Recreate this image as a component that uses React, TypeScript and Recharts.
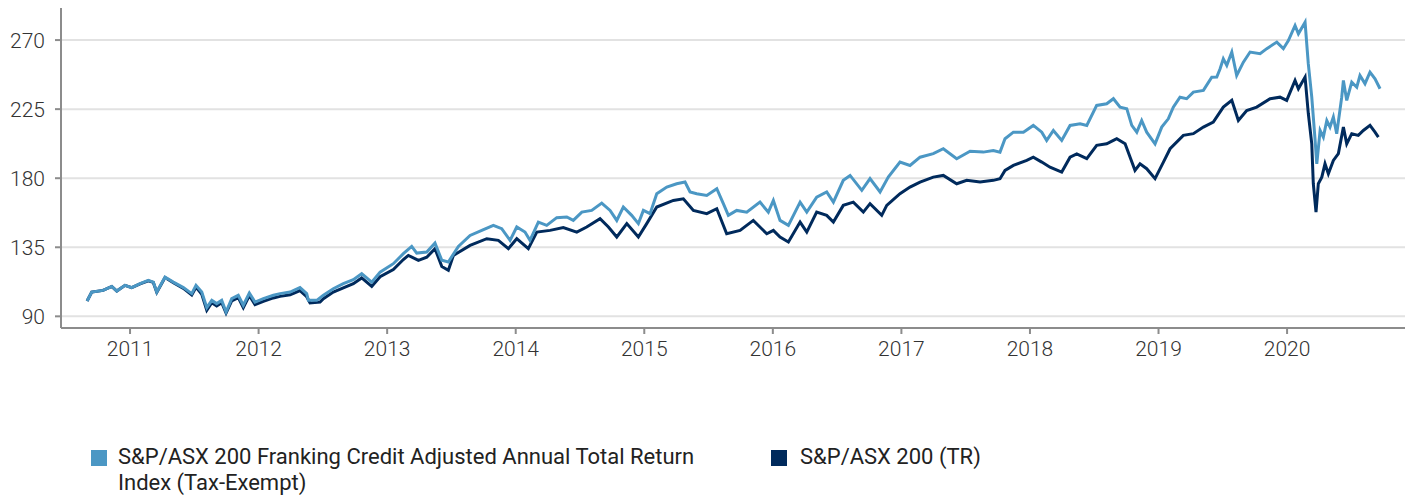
import React from "react";
import { LineChart, Line, XAxis, YAxis, CartesianGrid } from "recharts";

// Decimal-year dates and index values
const fcDates = [
  2010.666, 2010.702, 2010.79, 2010.858, 2010.897, 2010.961, 2011.013, 2011.078, 2011.142, 2011.181,
  2011.208, 2011.272, 2011.337, 2011.415, 2011.48, 2011.513, 2011.558, 2011.597, 2011.636, 2011.674,
  2011.713, 2011.747, 2011.791, 2011.842, 2011.881, 2011.928, 2011.972, 2012.037, 2012.115, 2012.167,
  2012.245, 2012.322, 2012.374, 2012.387, 2012.452, 2012.504, 2012.581, 2012.659, 2012.737, 2012.802,
  2012.88, 2012.945, 2013.048, 2013.126, 2013.191, 2013.23, 2013.308, 2013.372, 2013.425, 2013.476,
  2013.554, 2013.645, 2013.736, 2013.826, 2013.891, 2013.956, 2014.008, 2014.072, 2014.111, 2014.176,
  2014.241, 2014.319, 2014.397, 2014.448, 2014.514, 2014.591, 2014.669, 2014.734, 2014.786, 2014.837,
  2014.902, 2014.954, 2014.993, 2015.045, 2015.097, 2015.175, 2015.252, 2015.317, 2015.356, 2015.408,
  2015.486, 2015.564, 2015.615, 2015.654, 2015.719, 2015.797, 2015.9, 2015.965, 2016.004, 2016.056,
  2016.121, 2016.212, 2016.264, 2016.341, 2016.419, 2016.471, 2016.548, 2016.601, 2016.692, 2016.756,
  2016.834, 2016.898, 2016.989, 2017.067, 2017.145, 2017.248, 2017.326, 2017.43, 2017.534, 2017.637,
  2017.715, 2017.767, 2017.806, 2017.871, 2017.949, 2018.026, 2018.092, 2018.13, 2018.182, 2018.247,
  2018.312, 2018.39, 2018.442, 2018.519, 2018.597, 2018.649, 2018.701, 2018.753, 2018.792, 2018.831,
  2018.869, 2018.908, 2018.973, 2019.025, 2019.076, 2019.115, 2019.167, 2019.219, 2019.271, 2019.349,
  2019.414, 2019.453, 2019.479, 2019.504, 2019.531, 2019.57, 2019.608, 2019.66, 2019.712, 2019.79,
  2019.842, 2019.92, 2019.971, 2020.01, 2020.062, 2020.088, 2020.14, 2020.165, 2020.192, 2020.218,
  2020.231, 2020.257, 2020.282, 2020.309, 2020.334, 2020.36, 2020.386, 2020.425, 2020.438, 2020.464,
  2020.503, 2020.542, 2020.567, 2020.606, 2020.645, 2020.684, 2020.723,
];
const fcValues = [
  100.0, 105.8, 106.9, 109.5, 106.5, 110.2, 108.7, 111.3, 113.4, 112.3,
  105.8, 115.6, 112.3, 108.7, 104.8, 110.2, 105.8, 95.7, 100.4, 98.3,
  100.4, 92.8, 101.5, 103.7, 97.2, 105.2, 99.3, 101.5, 103.7, 104.8,
  105.8, 108.7, 104.8, 100.4, 100.4, 103.7, 108.0, 111.3, 113.9, 117.8,
  112.3, 118.8, 124.3, 130.8, 135.6, 131.2, 131.9, 137.7, 126.5, 125.4,
  135.6, 142.7, 146.0, 149.3, 147.1, 139.5, 148.2, 144.9, 139.5, 151.4,
  149.3, 154.3, 154.7, 152.5, 157.9, 159.0, 163.8, 159.0, 152.5, 161.2,
  155.8, 150.4, 159.0, 156.9, 169.9, 174.2, 176.4, 177.5, 171.0, 169.9,
  168.8, 173.2, 163.4, 155.8, 159.0, 157.9, 164.4, 157.9, 165.5, 152.5,
  149.3, 164.4, 157.9, 167.7, 171.0, 164.4, 178.6, 181.8, 172.1, 179.7,
  171.0, 180.7, 190.5, 188.3, 193.7, 196.0, 199.2, 192.7, 197.6, 197.0,
  198.1, 197.0, 205.7, 210.0, 210.0, 214.4, 210.0, 204.6, 211.1, 204.6,
  214.4, 215.5, 214.4, 227.4, 228.5, 231.8, 226.3, 225.3, 214.4, 210.0,
  217.6, 210.0, 202.4, 213.3, 218.7, 226.3, 232.8, 231.8, 236.1, 237.2,
  245.8, 245.9, 251.3, 257.8, 253.5, 262.2, 246.9, 255.6, 262.2, 261.1,
  264.4, 268.7, 264.4, 269.7, 279.5, 274.1, 281.6, 254.6, 232.8, 204.6,
  189.4, 211.1, 206.8, 217.6, 213.3, 219.8, 209.0, 232.8, 243.7, 230.7,
  242.6, 239.3, 246.9, 241.6, 249.1, 244.8, 238.3,
];

const trDates = [
  2010.666, 2010.702, 2010.79, 2010.858, 2010.897, 2010.961, 2011.013, 2011.078, 2011.142, 2011.181,
  2011.208, 2011.272, 2011.337, 2011.415, 2011.48, 2011.513, 2011.558, 2011.597, 2011.636, 2011.674,
  2011.713, 2011.747, 2011.791, 2011.842, 2011.881, 2011.928, 2011.972, 2012.037, 2012.115, 2012.167,
  2012.245, 2012.322, 2012.374, 2012.4, 2012.478, 2012.504, 2012.581, 2012.659, 2012.737, 2012.802,
  2012.88, 2012.945, 2013.048, 2013.126, 2013.165, 2013.243, 2013.308, 2013.372, 2013.425, 2013.476,
  2013.515, 2013.645, 2013.775, 2013.865, 2013.943, 2014.008, 2014.098, 2014.164, 2014.267, 2014.37,
  2014.475, 2014.552, 2014.656, 2014.721, 2014.786, 2014.864, 2014.954, 2015.019, 2015.097, 2015.226,
  2015.304, 2015.382, 2015.486, 2015.564, 2015.641, 2015.745, 2015.848, 2015.953, 2016.004, 2016.056,
  2016.121, 2016.212, 2016.264, 2016.341, 2016.419, 2016.471, 2016.548, 2016.626, 2016.704, 2016.756,
  2016.847, 2016.886, 2016.989, 2017.067, 2017.145, 2017.248, 2017.326, 2017.43, 2017.508, 2017.612,
  2017.715, 2017.767, 2017.806, 2017.871, 2017.975, 2018.026, 2018.092, 2018.156, 2018.247, 2018.312,
  2018.364, 2018.442, 2018.519, 2018.597, 2018.649, 2018.675, 2018.74, 2018.779, 2018.817, 2018.856,
  2018.908, 2018.973, 2019.038, 2019.09, 2019.193, 2019.271, 2019.349, 2019.426, 2019.504, 2019.57,
  2019.621, 2019.686, 2019.764, 2019.868, 2019.945, 2019.997, 2020.062, 2020.088, 2020.14, 2020.165,
  2020.192, 2020.204, 2020.225, 2020.243, 2020.27, 2020.295, 2020.321, 2020.36, 2020.399, 2020.438,
  2020.464, 2020.503, 2020.554, 2020.593, 2020.645, 2020.684, 2020.71,
];
const trValues = [
  100.0, 105.8, 106.9, 109.5, 106.5, 110.2, 108.7, 111.2, 113.2, 112.1,
  105.6, 115.3, 111.9, 108.2, 103.9, 109.0, 104.4, 93.9, 98.9, 96.8,
  98.9, 92.1, 100.0, 102.2, 95.7, 103.6, 97.6, 99.8, 102.0, 103.0,
  104.0, 106.8, 102.8, 98.7, 99.3, 101.5, 105.8, 108.5, 111.3, 115.0,
  109.5, 115.8, 120.5, 127.0, 129.7, 126.5, 128.5, 134.1, 122.5, 120.0,
  129.7, 136.2, 140.6, 139.5, 134.1, 140.6, 134.1, 144.9, 146.0, 147.8,
  144.9, 148.2, 153.6, 148.2, 141.7, 150.4, 141.7, 150.4, 161.2, 165.5,
  166.6, 159.0, 156.9, 160.1, 143.8, 146.0, 152.5, 143.8, 146.0, 141.7,
  138.4, 151.4, 144.9, 157.9, 155.8, 151.4, 162.3, 164.4, 157.9, 163.4,
  155.8, 162.3, 169.9, 174.2, 177.5, 180.7, 181.8, 176.4, 178.6, 177.5,
  178.6, 179.7, 185.1, 188.3, 191.6, 193.7, 190.5, 187.2, 184.0, 193.7,
  195.9, 192.7, 201.4, 202.4, 204.6, 205.7, 202.4, 193.7, 185.1, 189.4,
  186.2, 179.7, 190.5, 199.2, 207.9, 209.0, 213.3, 216.5, 226.3, 230.7,
  217.6, 224.1, 226.3, 231.8, 232.8, 230.7, 243.7, 238.3, 245.9, 222.3,
  202.4, 176.4, 157.9, 176.4, 180.7, 189.4, 182.9, 191.6, 196.0, 213.3,
  202.4, 209.0, 207.9, 211.1, 214.4, 210.0, 206.8,
];

const yearTicks = [2011, 2012, 2013, 2014, 2015, 2016, 2017, 2018, 2019, 2020];
const valueTicks = [90, 135, 180, 225, 270];

const fcName = "S&P/ASX 200 Franking Credit Adjusted Annual Total Return Index (Tax-Exempt)";
const trName = "S&P/ASX 200 (TR)";

const fcData = fcDates.map((d, i) => ({ x: d, v: fcValues[i] }));
const trData = trDates.map((d, i) => ({ x: d, v: trValues[i] }));

const LIGHT = "#4b97c4";
const DARK = "#002a5c";
const FONT = "Roboto, 'Noto Sans', sans-serif";

export default function App() {
  return (
    <div style={{ position: "relative", width: 1413, height: 496, margin: "-8px 0 0 -8px", background: "#fff", fontFamily: FONT }}>
      <LineChart width={1413} height={380} margin={{ top: 6, right: 7, bottom: 0, left: 0 }}>
        <CartesianGrid vertical={false} stroke="#e2e2e2" strokeWidth={2} />
        <XAxis
          type="number"
          dataKey="x"
          domain={[2010.463, 2020.925]}
          ticks={yearTicks}
          allowDataOverflow
          height={52}
          stroke="#8c8c8c"
          strokeWidth={2}
          tickSize={6}
          tickMargin={7}
          tick={{ fill: "#333", fontSize: 21, fontWeight: 300, fontFamily: FONT }}
        />
        <YAxis
          type="number"
          dataKey="v"
          domain={[82.4, 292.2]}
          ticks={valueTicks}
          allowDataOverflow
          width={61}
          stroke="#8c8c8c"
          strokeWidth={2}
          tickSize={6}
          tickMargin={10}
          tick={{ fill: "#333", fontSize: 21, fontWeight: 300, fontFamily: FONT }}
        />
        <Line data={trData} dataKey="v" type="linear" stroke={DARK} strokeWidth={3} dot={false} isAnimationActive={false} name={trName} />
        <Line data={fcData} dataKey="v" type="linear" stroke={LIGHT} strokeWidth={3} dot={false} isAnimationActive={false} name={fcName} />
      </LineChart>
      <div style={{ position: "absolute", left: 91, top: 450, width: 16, height: 16, background: LIGHT }} />
      <div style={{ position: "absolute", left: 118, top: 444, width: 600, fontSize: 22, lineHeight: "26px", color: "#222" }}>
        {fcName}
      </div>
      <div style={{ position: "absolute", left: 771, top: 450, width: 16, height: 16, background: DARK }} />
      <div style={{ position: "absolute", left: 800, top: 444, fontSize: 22, lineHeight: "26px", color: "#222" }}>
        {trName}
      </div>
    </div>
  );
}
